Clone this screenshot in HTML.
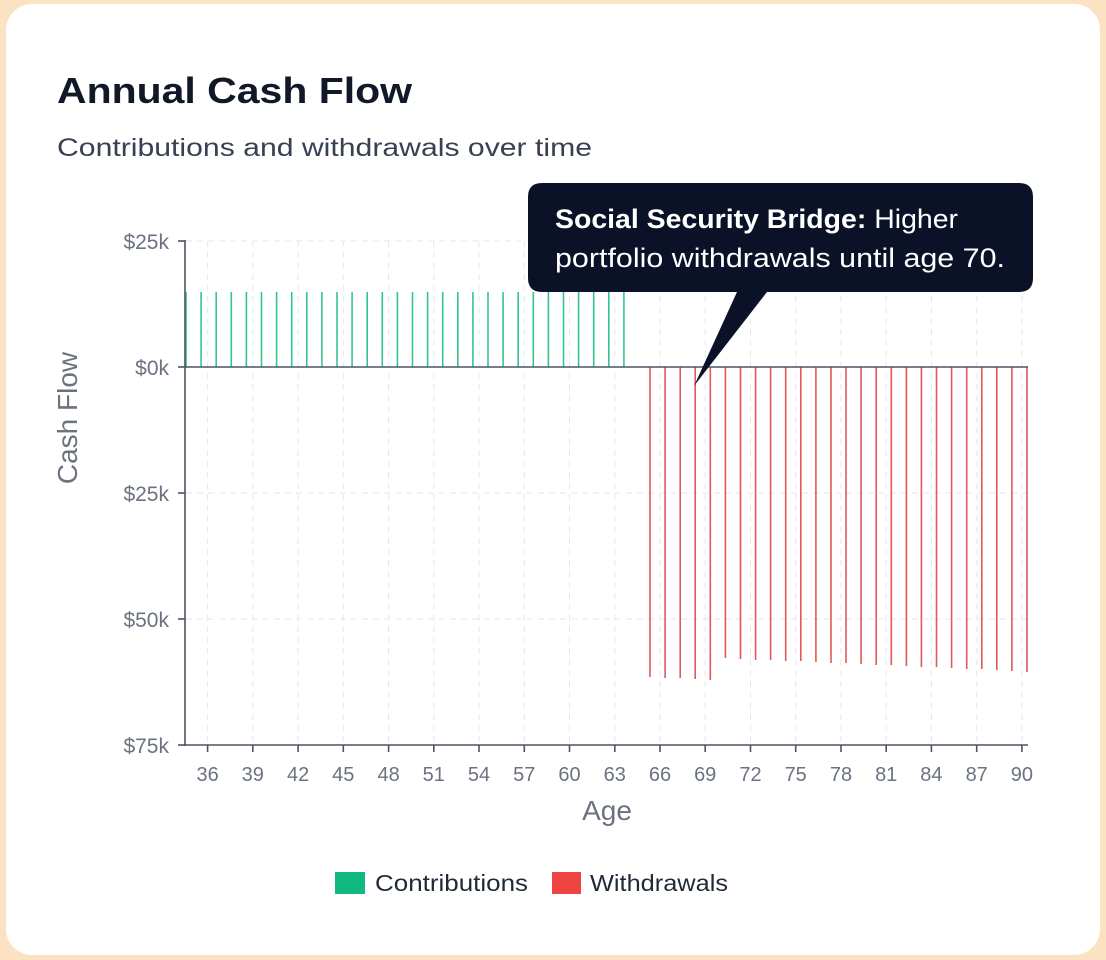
<!DOCTYPE html>
<html><head><meta charset="utf-8"><style>
html,body{margin:0;padding:0;background:#fbe2c2;}
svg{display:block;font-family:"Liberation Sans",sans-serif;}
</style></head><body>
<svg width="1106" height="960" viewBox="0 0 1106 960" xmlns="http://www.w3.org/2000/svg">
<rect x="0" y="0" width="1106" height="960" fill="#fbe2c2"/>
<rect x="6" y="4" width="1094" height="951" rx="26" fill="#ffffff"/>
<text x="57" y="103" font-size="36" font-weight="bold" fill="#111827" textLength="355" lengthAdjust="spacingAndGlyphs">Annual Cash Flow</text>
<text x="57" y="156" font-size="25" fill="#374151" textLength="535" lengthAdjust="spacingAndGlyphs">Contributions and withdrawals over time</text>

<g stroke="#e5e7eb" stroke-width="1" stroke-dasharray="6 5">
<line x1="186" y1="241" x2="1028" y2="241"/>
<line x1="186" y1="493" x2="1028" y2="493"/>
<line x1="186" y1="619" x2="1028" y2="619"/>
<line x1="207.6" y1="241" x2="207.6" y2="745"/><line x1="252.8" y1="241" x2="252.8" y2="745"/><line x1="298.1" y1="241" x2="298.1" y2="745"/><line x1="343.3" y1="241" x2="343.3" y2="745"/><line x1="388.6" y1="241" x2="388.6" y2="745"/><line x1="433.8" y1="241" x2="433.8" y2="745"/><line x1="479" y1="241" x2="479" y2="745"/><line x1="524.3" y1="241" x2="524.3" y2="745"/><line x1="569.5" y1="241" x2="569.5" y2="745"/><line x1="614.8" y1="241" x2="614.8" y2="745"/><line x1="660" y1="241" x2="660" y2="745"/><line x1="705.2" y1="241" x2="705.2" y2="745"/><line x1="750.5" y1="241" x2="750.5" y2="745"/><line x1="795.7" y1="241" x2="795.7" y2="745"/><line x1="841" y1="241" x2="841" y2="745"/><line x1="886.2" y1="241" x2="886.2" y2="745"/><line x1="931.4" y1="241" x2="931.4" y2="745"/><line x1="976.7" y1="241" x2="976.7" y2="745"/><line x1="1021.9" y1="241" x2="1021.9" y2="745"/>
</g>

<g stroke="#10b981" stroke-width="1.6" stroke-opacity="0.85">
<line x1="186" y1="292" x2="186" y2="367"/><line x1="201.1" y1="292" x2="201.1" y2="367"/><line x1="216.2" y1="292" x2="216.2" y2="367"/><line x1="231.3" y1="292" x2="231.3" y2="367"/><line x1="246.4" y1="292" x2="246.4" y2="367"/><line x1="261.5" y1="292" x2="261.5" y2="367"/><line x1="276.6" y1="292" x2="276.6" y2="367"/><line x1="291.7" y1="292" x2="291.7" y2="367"/><line x1="306.8" y1="292" x2="306.8" y2="367"/><line x1="321.9" y1="292" x2="321.9" y2="367"/><line x1="337" y1="292" x2="337" y2="367"/><line x1="352.1" y1="292" x2="352.1" y2="367"/><line x1="367.2" y1="292" x2="367.2" y2="367"/><line x1="382.3" y1="292" x2="382.3" y2="367"/><line x1="397.4" y1="292" x2="397.4" y2="367"/><line x1="412.5" y1="292" x2="412.5" y2="367"/><line x1="427.6" y1="292" x2="427.6" y2="367"/><line x1="442.7" y1="292" x2="442.7" y2="367"/><line x1="457.8" y1="292" x2="457.8" y2="367"/><line x1="472.9" y1="292" x2="472.9" y2="367"/><line x1="488" y1="292" x2="488" y2="367"/><line x1="503.1" y1="292" x2="503.1" y2="367"/><line x1="518.2" y1="292" x2="518.2" y2="367"/><line x1="533.3" y1="292" x2="533.3" y2="367"/><line x1="548.4" y1="292" x2="548.4" y2="367"/><line x1="563.5" y1="292" x2="563.5" y2="367"/><line x1="578.6" y1="292" x2="578.6" y2="367"/><line x1="593.7" y1="292" x2="593.7" y2="367"/><line x1="608.8" y1="292" x2="608.8" y2="367"/><line x1="623.9" y1="292" x2="623.9" y2="367"/>
</g>
<g stroke="#dc3c3c" stroke-width="1.6" stroke-opacity="0.85">
<line x1="650" y1="367" x2="650" y2="677"/><line x1="665.1" y1="367" x2="665.1" y2="678"/><line x1="680.2" y1="367" x2="680.2" y2="678"/><line x1="695.2" y1="367" x2="695.2" y2="679"/><line x1="710.3" y1="367" x2="710.3" y2="680"/><line x1="725.4" y1="367" x2="725.4" y2="658"/><line x1="740.5" y1="367" x2="740.5" y2="659"/><line x1="755.6" y1="367" x2="755.6" y2="660"/><line x1="770.6" y1="367" x2="770.6" y2="660"/><line x1="785.7" y1="367" x2="785.7" y2="661"/><line x1="800.8" y1="367" x2="800.8" y2="661"/><line x1="815.9" y1="367" x2="815.9" y2="662"/><line x1="831" y1="367" x2="831" y2="663"/><line x1="846" y1="367" x2="846" y2="663"/><line x1="861.1" y1="367" x2="861.1" y2="664"/><line x1="876.2" y1="367" x2="876.2" y2="665"/><line x1="891.3" y1="367" x2="891.3" y2="665"/><line x1="906.4" y1="367" x2="906.4" y2="666"/><line x1="921.4" y1="367" x2="921.4" y2="667"/><line x1="936.5" y1="367" x2="936.5" y2="667"/><line x1="951.6" y1="367" x2="951.6" y2="668"/><line x1="966.7" y1="367" x2="966.7" y2="669"/><line x1="981.8" y1="367" x2="981.8" y2="669"/><line x1="996.8" y1="367" x2="996.8" y2="670"/><line x1="1011.9" y1="367" x2="1011.9" y2="671"/><line x1="1027" y1="367" x2="1027" y2="672"/>
</g>

<g stroke="#4b5563" stroke-width="1.6">
<line x1="185" y1="240" x2="185" y2="746"/>
<line x1="185" y1="745" x2="1028" y2="745"/>
<line x1="185" y1="367" x2="1028" y2="367"/>
<line x1="178" y1="241" x2="185" y2="241"/><line x1="178" y1="367" x2="185" y2="367"/><line x1="178" y1="493" x2="185" y2="493"/><line x1="178" y1="619" x2="185" y2="619"/><line x1="178" y1="745" x2="185" y2="745"/>
<line x1="207.6" y1="745" x2="207.6" y2="752"/><line x1="252.8" y1="745" x2="252.8" y2="752"/><line x1="298.1" y1="745" x2="298.1" y2="752"/><line x1="343.3" y1="745" x2="343.3" y2="752"/><line x1="388.6" y1="745" x2="388.6" y2="752"/><line x1="433.8" y1="745" x2="433.8" y2="752"/><line x1="479" y1="745" x2="479" y2="752"/><line x1="524.3" y1="745" x2="524.3" y2="752"/><line x1="569.5" y1="745" x2="569.5" y2="752"/><line x1="614.8" y1="745" x2="614.8" y2="752"/><line x1="660" y1="745" x2="660" y2="752"/><line x1="705.2" y1="745" x2="705.2" y2="752"/><line x1="750.5" y1="745" x2="750.5" y2="752"/><line x1="795.7" y1="745" x2="795.7" y2="752"/><line x1="841" y1="745" x2="841" y2="752"/><line x1="886.2" y1="745" x2="886.2" y2="752"/><line x1="931.4" y1="745" x2="931.4" y2="752"/><line x1="976.7" y1="745" x2="976.7" y2="752"/><line x1="1021.9" y1="745" x2="1021.9" y2="752"/>
</g>

<g font-size="21" fill="#6b7280" text-anchor="end">
<text x="169" y="249">$25k</text><text x="169" y="375">$0k</text><text x="169" y="501">$25k</text><text x="169" y="627">$50k</text><text x="169" y="753">$75k</text>
</g>
<g font-size="20" fill="#6b7280" text-anchor="middle">
<text x="207.6" y="781">36</text><text x="252.8" y="781">39</text><text x="298.1" y="781">42</text><text x="343.3" y="781">45</text><text x="388.6" y="781">48</text><text x="433.8" y="781">51</text><text x="479" y="781">54</text><text x="524.3" y="781">57</text><text x="569.5" y="781">60</text><text x="614.8" y="781">63</text><text x="660" y="781">66</text><text x="705.2" y="781">69</text><text x="750.5" y="781">72</text><text x="795.7" y="781">75</text><text x="841" y="781">78</text><text x="886.2" y="781">81</text><text x="931.4" y="781">84</text><text x="976.7" y="781">87</text><text x="1021.9" y="781">90</text>
</g>
<text x="607" y="820" font-size="28" fill="#6b7280" text-anchor="middle">Age</text>
<text transform="translate(77,418) rotate(-90)" font-size="28" fill="#6b7280" text-anchor="middle">Cash Flow</text>

<path d="M542,183 H1019 Q1033,183 1033,197 V278 Q1033,292 1019,292 H767 L694,386 L737,292 H542 Q528,292 528,278 V197 Q528,183 542,183 Z" fill="#0b1228"/>
<text x="555" y="228" font-size="27" fill="#ffffff" textLength="403" lengthAdjust="spacingAndGlyphs"><tspan font-weight="bold">Social Security Bridge:</tspan> Higher</text>
<text x="555" y="267" font-size="27" fill="#ffffff" textLength="450" lengthAdjust="spacingAndGlyphs">portfolio withdrawals until age 70.</text>

<rect x="335" y="872" width="30" height="22" fill="#10b981"/>
<text x="375" y="891" font-size="23" fill="#1f2937" textLength="153" lengthAdjust="spacingAndGlyphs">Contributions</text>
<rect x="552" y="872" width="29" height="22" fill="#ef4444"/>
<text x="590" y="891" font-size="23" fill="#1f2937" textLength="138" lengthAdjust="spacingAndGlyphs">Withdrawals</text>
</svg>
</body></html>
